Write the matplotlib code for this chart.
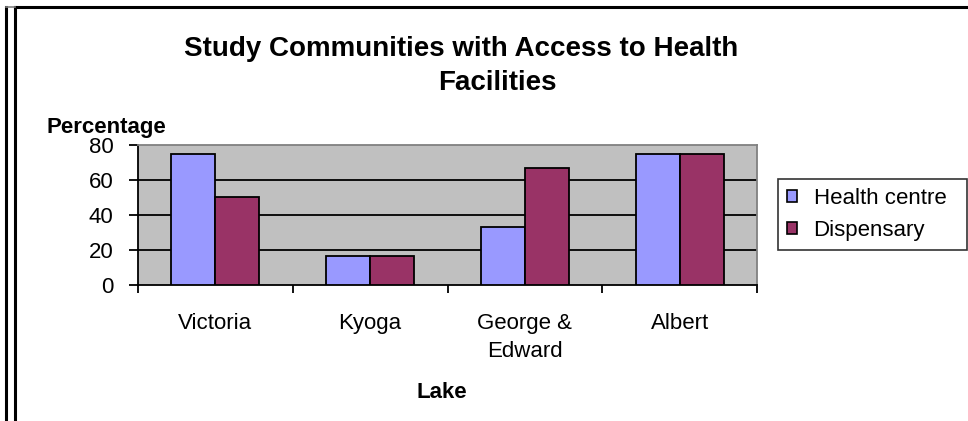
import matplotlib.pyplot as plt
import numpy as np
from matplotlib.lines import Line2D
from matplotlib.patches import Patch

plt.rcParams["font.family"] = ["Liberation Sans", "DejaVu Sans"]

lakes = ["Victoria", "Kyoga", "George &\nEdward", "Albert"]
health_centre = [75.0, 16.7, 33.3, 75.0]
dispensary = [50.0, 16.7, 66.7, 75.0]

W, H = 968, 421


def main() -> None:
    fig = plt.figure(figsize=(W / 100, H / 100), dpi=100)

    # chart-area frame: double line on the left, line on top
    for x in (6, 15):
        fig.add_artist(Line2D([x / W, x / W], [0, 1 - 7 / H], color="black", lw=2.2))
    fig.add_artist(Line2D([15 / W, 1], [1 - 7 / H, 1 - 7 / H], color="black", lw=2.2))
    fig.add_artist(Line2D([6 / W, 15 / W], [1 - 7 / H, 1 - 7 / H], color="#808080", lw=1.2))

    left, right, top, bottom = 138, 757, 145, 285
    ax = fig.add_axes([left / W, 1 - bottom / H, (right - left) / W, (bottom - top) / H])
    ax.set_facecolor("#c0c0c0")

    x = np.arange(len(lakes))
    bw = 0.284
    ax.bar(x - bw / 2, health_centre, bw, color="#9999ff", edgecolor="black", lw=1.3, zorder=3)
    ax.bar(x + bw / 2, dispensary, bw, color="#993366", edgecolor="black", lw=1.3, zorder=3)

    ax.set_xlim(-0.5, len(lakes) - 0.5)
    ax.set_ylim(0, 80)
    ax.set_yticks([0, 20, 40, 60, 80])
    for y in (20, 40, 60):
        ax.axhline(y, color="black", lw=1.3, zorder=1)

    ax.set_xticks(x)
    ax.set_xticklabels(lakes, fontsize=16, linespacing=1.4, va="top")
    ax.set_xticks(np.arange(-0.5, len(lakes)), minor=True)
    ax.tick_params(axis="x", which="major", length=0, pad=20.5)
    ax.tick_params(axis="x", which="minor", length=5.5, width=1.3, direction="out")
    ax.tick_params(axis="y", length=6.5, width=1.3, direction="out", labelsize=16, pad=11)

    for s in ("left", "bottom"):
        ax.spines[s].set_color("black")
        ax.spines[s].set_linewidth(1.3)
    for s in ("top", "right"):
        ax.spines[s].set_color("#808080")
        ax.spines[s].set_linewidth(1.3)

    fig.text(461.5 / W, 1 - 55.5 / H, "Study Communities with Access to Health",
             ha="center", va="baseline", fontsize=20, fontweight="bold")
    fig.text(497 / W, 1 - 90 / H, "Facilities",
             ha="center", va="baseline", fontsize=20, fontweight="bold")
    fig.text(47 / W, 1 - 133 / H, "Percentage", ha="left", va="baseline",
             fontsize=16, fontweight="bold")
    fig.text(442 / W, 1 - 398 / H, "Lake", ha="center", va="baseline",
             fontsize=16, fontweight="bold")

    handles = [
        Patch(facecolor="#9999ff", edgecolor="black", lw=1.2, label="Health centre"),
        Patch(facecolor="#993366", edgecolor="black", lw=1.2, label="Dispensary"),
    ]
    leg = fig.legend(handles=handles, loc="center", mode="expand",
                     bbox_to_anchor=(778 / W, 1 - 251 / H, 189 / W, 73 / H), fontsize=16,
                     frameon=True, fancybox=False, edgecolor="black",
                     handlelength=0.45, handleheight=0.45, handletextpad=0.75,
                     borderpad=0.4, labelspacing=0.5, borderaxespad=0)
    leg.get_frame().set_linewidth(1.2)

    fig.savefig("out.png", dpi=100)


if __name__ == "__main__":
    main()
